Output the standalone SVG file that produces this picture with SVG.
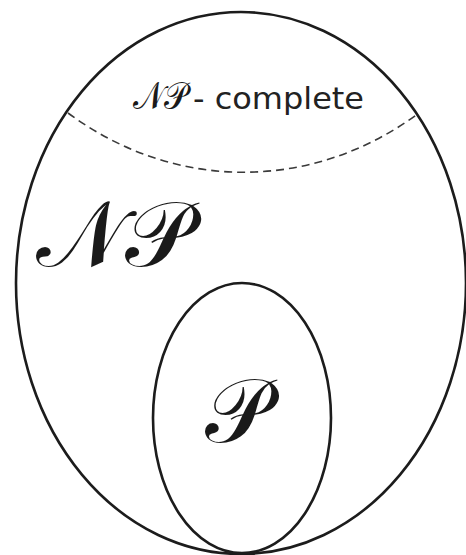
<svg xmlns="http://www.w3.org/2000/svg" width="466" height="555" viewBox="0 0 466 555">
  <style>
    .set { fill: none; stroke: #1c1c1c; stroke-width: 2.6; }
    .boundary { fill: none; stroke: #3a3a3a; stroke-width: 1.6; stroke-dasharray: 8 5; }
    .script { font-family: "DejaVu Serif", "Liberation Serif", serif; fill: #1a1a1a; }
    .label { font-family: "DejaVu Sans", "Liberation Sans", sans-serif; fill: #222; }
  </style>
  <rect width="466" height="555" fill="#ffffff"/>
  <g id="np">
    <ellipse class="set" cx="241" cy="283" rx="225" ry="271"/>
    <text class="script" x="36" y="266" font-size="92" textLength="155" lengthAdjust="spacingAndGlyphs">𝒩𝒫</text>
  </g>
  <g id="np-complete">
    <text x="133" y="109"><tspan class="script" font-size="38" textLength="54" lengthAdjust="spacingAndGlyphs">𝒩𝒫</tspan><tspan class="label" x="193" font-size="30" textLength="171" lengthAdjust="spacingAndGlyphs">- complete</tspan></text>
  </g>
  <g id="p">
    <ellipse class="set" cx="242" cy="418" rx="89" ry="135"/>
    <text class="script" x="205" y="442" font-size="90" textLength="65" lengthAdjust="spacingAndGlyphs">𝒫</text>
  </g>
  <g id="connectors">
    <path class="boundary" d="M68 113 C175 192 312 192 419 113"/>
  </g>
</svg>
